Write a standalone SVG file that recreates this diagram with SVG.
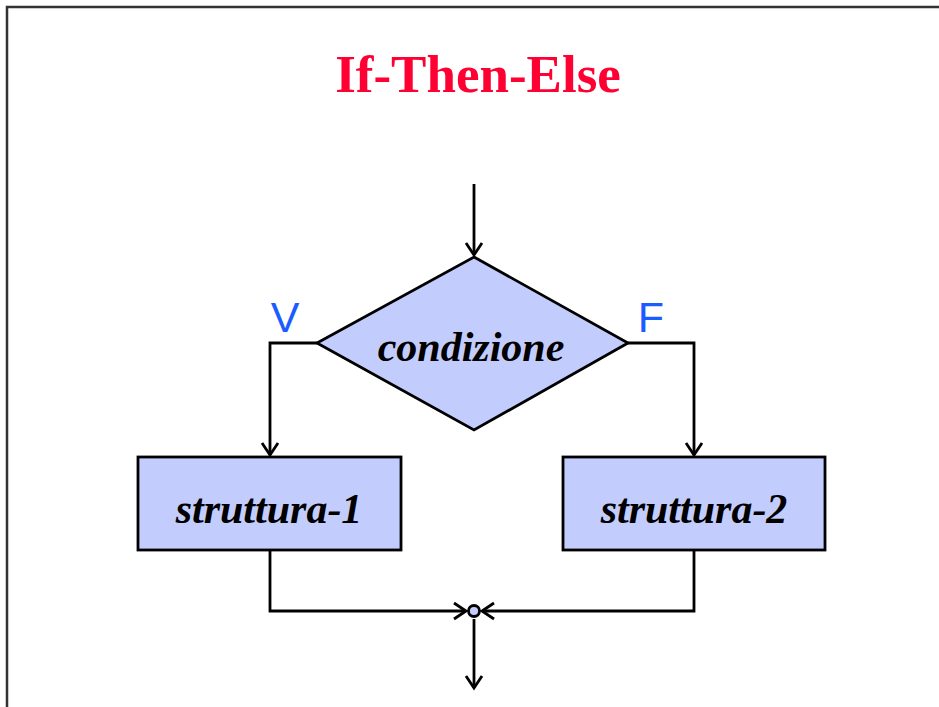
<svg xmlns="http://www.w3.org/2000/svg" width="939" height="707" viewBox="0 0 939 707">
  <style>
    .frame { fill: none; stroke: #333333; stroke-width: 2.5; }
    .title { font-family: "Liberation Serif", "Times New Roman", serif; font-weight: bold; font-size: 53px; fill: #FF0033; text-anchor: middle; }
    .shape { fill: #C3CDFD; stroke: #000000; stroke-width: 2.8; stroke-linejoin: miter; }
    .label { font-family: "Liberation Serif", "Times New Roman", serif; font-weight: bold; font-style: italic; font-size: 42px; fill: #000000; text-anchor: middle; }
    .branch { font-family: "Liberation Sans", Arial, sans-serif; font-size: 43px; fill: #1A5CFF; text-anchor: middle; }
    .edge { fill: none; stroke: #000000; stroke-width: 2.8; stroke-linejoin: miter; }
  </style>
  <defs>
    <marker id="arrow" markerUnits="userSpaceOnUse" markerWidth="20" markerHeight="20" viewBox="-14 -10 16 20" refX="0" refY="0" orient="auto">
      <path d="M-12,-8 L0,0 L-12,8" fill="none" stroke="#000000" stroke-width="2.8" stroke-linejoin="miter"/>
    </marker>
  </defs>

  <rect width="939" height="707" fill="#FFFFFF"/>
  <!-- page frame -->
  <path class="frame" d="M7,720 L7,7 L945,7"/>

  <text class="title" x="478" y="92">If-Then-Else</text>

  <g id="connectors">
    <path class="edge" d="M474,184 L474,255" marker-end="url(#arrow)"/>
    <path class="edge" d="M317,343 L270,343 L270,455" marker-end="url(#arrow)"/>
    <path class="edge" d="M628,343 L694,343 L694,455" marker-end="url(#arrow)"/>
    <path class="edge" d="M270,550 L270,611 L466,611" marker-end="url(#arrow)"/>
    <path class="edge" d="M694,550 L694,611 L482,611" marker-end="url(#arrow)"/>
    <path class="edge" d="M474,619 L474,688" marker-end="url(#arrow)"/>
  </g>

  <g id="condizione">
    <polygon class="shape" points="474,257 628,343 474,430 317,343"/>
    <text class="label" x="471" y="361">condizione</text>
  </g>

  <g id="label-v">
    <text class="branch" x="285" y="332">V</text>
  </g>
  <g id="label-f">
    <text class="branch" x="651" y="332">F</text>
  </g>

  <g id="struttura-1">
    <rect class="shape" x="138" y="457" width="263" height="93"/>
    <text class="label" x="269" y="523">struttura-1</text>
  </g>

  <g id="struttura-2">
    <rect class="shape" x="563" y="457" width="262" height="93"/>
    <text class="label" x="694" y="523">struttura-2</text>
  </g>

  <g id="join">
    <circle class="shape" cx="474" cy="611" r="5.5" stroke-width="2"/>
  </g>
</svg>
